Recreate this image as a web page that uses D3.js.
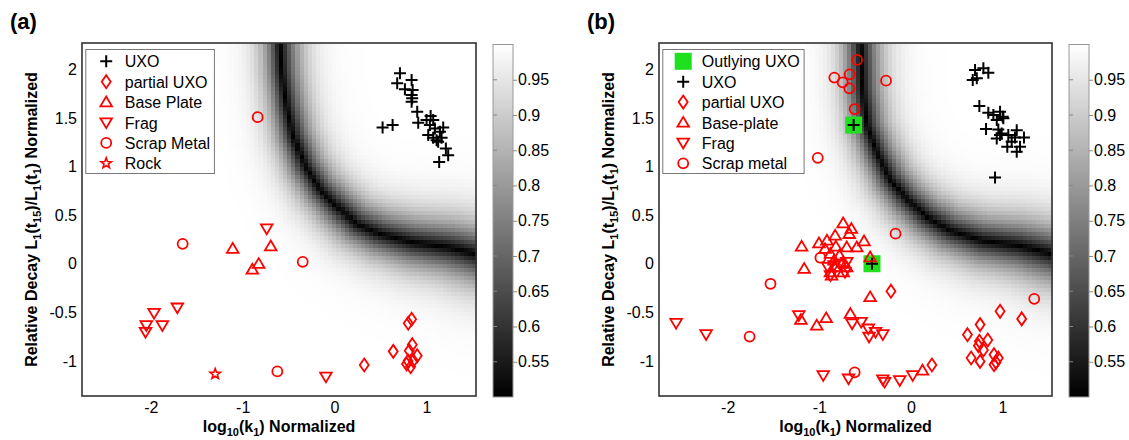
<!DOCTYPE html>
<html lang="en">
<head>
<meta charset="UTF-8">
<title>Relative decay vs log10(k1)</title>
<script src="https://d3js.org/d3.v7.min.js"></script>
<style>
    body { margin: 0; background: #fff; }
    text { font-family: "Liberation Sans", Arial, sans-serif; }
</style>
</head>
<body>
<script type="text/javascript">
    var svgWidth = 1129;
    var svgHeight = 440;

    var xDomain = [-2.75, 1.54];
    var yDomain = [-1.36, 2.27];
    var cbDomain = [0.5, 1];
    var xTicks = [-2, -1, 0, 1];
    var yTicks = [-1, -0.5, 0, 0.5, 1, 1.5, 2];
    var cbTicks = [0.55, 0.6, 0.65, 0.7, 0.75, 0.8, 0.85, 0.9, 0.95];

    // ---- panel (a) ----
    var aUXO = [[0.712,1.959],[0.682,1.856],[0.839,1.890],[0.766,1.794],[0.850,1.787],[0.839,1.735],[0.845,1.701],
        [0.839,1.666],[0.523,1.402],[0.632,1.426],[0.900,1.563],[0.911,1.450],[1.046,1.519],[1.002,1.477],[1.074,1.477],
        [1.038,1.426],[1.092,1.392],[1.183,1.402],[1.147,1.357],[1.020,1.323],[1.074,1.295],[1.165,1.295],[1.128,1.254],
        [1.212,1.186],[1.237,1.116],[1.139,1.047],[1.111,1.271]];
    var aPartial = [[0.323,-1.041],[0.639,-0.901],[0.802,-0.612],[0.839,-0.571],[0.846,-0.832],[0.813,-0.894],
        [0.900,-0.945],[0.784,-1.031],[0.828,-1.059],[0.857,-0.997],[0.800,-1.000]];
    var aBase = [[-1.109,0.155],[-0.695,0.181],[-0.826,0.0],[-0.895,-0.059]];
    var aFrag = [[-0.739,0.361],[-1.712,-0.452],[-1.965,-0.507],[-1.875,-0.634],[-2.05,-0.634],[-2.058,-0.702],[-0.094,-1.162]];
    var aScrap = [[-0.837,1.507],[-1.654,0.205],[-0.347,0.02],[-0.623,-1.107]];
    var aRock = [[-1.30,-1.134]];
    var aLegend = ["UXO", "partial UXO", "Base Plate", "Frag", "Scrap Metal", "Rock"];
    // dark ridge of the background (value 0.5)
    var aBoundary = [[-0.62,3.2],[-0.594,2.268],[-0.576,1.959],[-0.521,1.614],[-0.449,1.305],[-0.322,0.996],[-0.159,0.756],
        [0.023,0.584],[0.240,0.412],[0.494,0.309],[0.856,0.223],[1.256,0.171],[1.539,0.103],[2.6,0.0]];

    // ---- panel (b) ----
    var bOutlying = [[-0.625,1.426],[-0.425,0.0]];
    var bUXO = [[0.700,1.993],[0.791,2.010],[0.845,1.965],[0.675,1.890],[0.719,1.907],[0.747,1.622],[0.845,1.553],
        [0.900,1.529],[0.973,1.563],[1.002,1.511],[0.937,1.478],[0.820,1.385],[0.954,1.381],[0.991,1.340],[1.063,1.323],
        [1.155,1.374],[1.136,1.299],[0.937,1.289],[1.234,1.299],[1.100,1.254],[1.052,1.202],[1.191,1.202],[1.155,1.151],
        [0.918,0.887],[1.009,1.495],[0.973,1.323],[-0.625,1.426],[-0.425,0.0]];
    var bPartial = [[0.973,-0.489],[1.209,-0.567],[0.755,-0.626],[0.617,-0.729],[0.747,-0.798],[0.839,-0.784],
        [0.791,-0.887],[0.736,-0.842],[0.657,-0.969],[0.755,-1.004],[0.907,-0.935],[0.954,-0.969],[0.929,-1.014],
        [0.907,-1.038],[0.229,-1.041],[-0.218,-0.282]];
    var bBase = [[-1.193,0.178],[-1.004,0.212],[-1.165,-0.051],[-0.740,0.418],[-0.650,0.360],[-0.827,0.291],[-0.917,0.240],
        [-0.673,0.308],[-0.512,0.233],[-0.591,0.171],[-0.701,0.171],[-0.819,0.178],[-0.937,0.154],[-0.878,0.103],
        [-0.780,0.086],[-0.839,0.034],[-0.740,0.017],[-0.819,-0.034],[-0.701,-0.034],[-0.878,-0.086],[-0.740,-0.086],
        [-0.866,-0.120],[-0.445,0.068],[-0.445,-0.342],[-0.661,-0.514],[-0.925,-0.558],[-1.028,-0.634],[-1.201,-0.575],
        [0.126,-1.096]];
    var bFrag = [[-2.563,-0.610],[-2.236,-0.726],[-1.224,-0.531],[-0.642,-0.616],[-0.543,-0.599],[-0.465,-0.668],
        [-0.457,-0.753],[-0.386,-0.702],[-0.307,-0.726],[-0.957,-1.147],[-0.681,-1.182],[-0.307,-1.192],[-0.287,-1.216],
        [-0.122,-1.199],[0.020,-1.147],[-0.906,-0.034],[-0.839,-0.017],[-0.780,0.0],[-0.700,0.017],[-0.878,-0.120],
        [-0.720,-0.086]];
    var bScrap = [[-0.588,2.096],[-0.836,1.914],[-0.669,1.948],[-0.745,1.866],[-0.672,1.804],[-0.272,1.883],[-0.614,1.591],
        [-1.017,1.089],[-0.168,0.309],[-0.988,0.062],[-1.533,-0.206],[-1.761,-0.749],[-0.614,-1.117],[1.346,-0.361]];
    var bLegend = ["Outlying UXO", "UXO", "partial UXO", "Base-plate", "Frag", "Scrap metal"];
    var bBoundary = [[-0.56,3.2],[-0.552,2.268],[-0.534,1.787],[-0.479,1.408],[-0.370,1.134],[-0.225,0.859],[-0.044,0.653],
        [0.174,0.480],[0.428,0.344],[0.791,0.240],[1.191,0.188],[1.536,0.106],[2.6,0.0]];

    var red = "#ff0000";
    var markerPath = {
        plus: "M-6,0H6M0,-6V6",
        diamond: "M0,-6.5L4.5,0L0,6.5L-4.5,0Z",
        up: "M0,-5.6L5.8,4.2L-5.8,4.2Z",
        down: "M0,5.6L5.8,-4.2L-5.8,-4.2Z",
        circle: "M5,0A5,5 0 1,1 -5,0A5,5 0 1,1 5,0",
        square: "M-8.5,-8.5H8.5V8.5H-8.5Z",
        star: (function () {
            var p = d3.path();
            for (var i = 0; i < 10; i++) {
                var r = i % 2 ? 2.3 : 5.5, a = -Math.PI / 2 + i * Math.PI / 5;
                if (i === 0) p.moveTo(r * Math.cos(a), r * Math.sin(a));
                else p.lineTo(r * Math.cos(a), r * Math.sin(a));
            }
            p.closePath();
            return p.toString();
        })()
    };
    var markerStyle = {
        plus: {stroke: "#000", fill: "none", width: 2},
        diamond: {stroke: red, fill: "none", width: 1.8},
        up: {stroke: red, fill: "none", width: 1.8},
        down: {stroke: red, fill: "none", width: 1.8},
        circle: {stroke: red, fill: "none", width: 1.8},
        square: {stroke: "none", fill: "#1fe01f", width: 0},
        star: {stroke: red, fill: "none", width: 1.6}
    };

    var grayScale = d3.scaleLinear().domain(cbDomain).range(["#000000", "#ffffff"]).clamp(true);

    var svg = d3.select("body").append("svg")
        .attr("width", svgWidth)
        .attr("height", svgHeight)
        .style("background", "#fff");

    function richText(sel, parts) {
        var prevSub = false;
        parts.forEach(function (p) {
            var t = sel.append("tspan").text(p[0]);
            if (p[1]) t.attr("font-size", 11);
            if (p[1] && !prevSub) t.attr("dy", 4);
            if (!p[1] && prevSub) t.attr("dy", -4);
            prevSub = p[1];
        });
    }

    function styleMarker(sel, type) {
        var s = markerStyle[type];
        sel.attr("d", markerPath[type])
            .attr("fill", s.fill)
            .attr("stroke", s.stroke)
            .attr("stroke-width", s.width);
    }

    // background value: 0.5 on the ridge, rising towards 1 away from it
    function makeField(boundary, x, y) {
        var pts = boundary.map(function (d) { return [x(d[0]), y(d[1])]; });
        var x0 = pts[1][0], x1 = x.range()[1];
        return function (px, py) {
            var best = Infinity, inner = true, qBest = 0;
            for (var i = 0; i < pts.length - 1; i++) {
                var ax = pts[i][0], ay = pts[i][1], dx = pts[i + 1][0] - ax, dy = pts[i + 1][1] - ay;
                var len2 = dx * dx + dy * dy;
                var u = Math.max(0, Math.min(1, ((px - ax) * dx + (py - ay) * dy) / len2));
                var qx = ax + u * dx, qy = ay + u * dy;
                var dd = Math.hypot(px - qx, py - qy);
                if (dd < best) {
                    best = dd;
                    inner = (dx * (py - ay) - dy * (px - ax)) < 0;
                    qBest = qx;
                }
            }
            var t = Math.max(0, Math.min(1, (qBest - x0) / (x1 - x0)));
            var w = inner ? 24 + 10 * t : 21 + 14 * t;
            return 0.5 + 0.5 * Math.tanh(best / w);
        };
    }

    function drawPanel(cfg) {
        var x = d3.scaleLinear().domain(xDomain).range([cfg.left, cfg.right]);
        var y = d3.scaleLinear().domain(yDomain).range([cfg.bottom, cfg.top]);
        var g = svg.append("g");

        // heat map
        var nx = 96, ny = 88;
        var cw = (cfg.right - cfg.left) / nx, ch = (cfg.bottom - cfg.top) / ny;
        var field = makeField(cfg.boundary, x, y);
        var cells = [];
        d3.range(nx).forEach(function (i) {
            d3.range(ny).forEach(function (j) {
                var vx = x.invert(cfg.left + (i + 0.5) * cw), vy = y.invert(cfg.top + (j + 0.5) * ch);
                cells.push({x: vx, y: vy, v: field(x(vx), y(vy))});
            });
        });
        g.append("g").selectAll("rect")
            .data(cells)
            .join("rect")
            .attr("x", function (d) { return x(d.x) - cw / 2; })
            .attr("y", function (d) { return y(d.y) - ch / 2; })
            .attr("width", cw + 0.6)
            .attr("height", ch + 0.6)
            .attr("fill", function (d) { return grayScale(d.v); })
            .attr("shape-rendering", "crispEdges");

        // markers
        cfg.series.forEach(function (s) {
            g.append("g").selectAll("path")
                .data(s.data)
                .join("path")
                .attr("transform", function (d) { return "translate(" + x(d[0]) + "," + y(d[1]) + ")"; })
                .call(styleMarker, s.marker);
        });

        // box
        g.append("rect")
            .attr("x", cfg.left).attr("y", cfg.top)
            .attr("width", cfg.right - cfg.left).attr("height", cfg.bottom - cfg.top)
            .attr("fill", "none").attr("stroke", "#333").attr("stroke-width", 1.6);

        // axes
        var xAxis = g.append("g")
            .attr("transform", "translate(0," + cfg.bottom + ")")
            .call(d3.axisBottom(x).tickValues(xTicks).tickSize(0).tickPadding(6).tickFormat(function (d) { return String(d); }));
        var yAxis = g.append("g")
            .attr("transform", "translate(" + cfg.left + ",0)")
            .call(d3.axisLeft(y).tickValues(yTicks).tickSize(0).tickPadding(5).tickFormat(function (d) { return String(d); }));
        [xAxis, yAxis].forEach(function (a) {
            a.select(".domain").remove();
            a.selectAll("text").attr("font-size", 16).attr("fill", "#000")
                .attr("font-family", "'Liberation Sans', Arial, sans-serif");
        });

        // axis labels
        richText(g.append("text")
            .attr("x", (cfg.left + cfg.right) / 2).attr("y", 432)
            .attr("text-anchor", "middle").attr("font-size", 16).attr("font-weight", "bold"),
            [["log", 0], ["10", 1], ["(k", 0], ["1", 1], [") Normalized", 0]]);
        richText(g.append("text")
            .attr("transform", "translate(" + cfg.ylabelX + "," + ((cfg.top + cfg.bottom) / 2) + ") rotate(-90)")
            .attr("text-anchor", "middle").attr("font-size", 16).attr("font-weight", "bold"),
            [["Relative Decay L", 0], ["1", 1], ["(t", 0], ["15", 1], [")/L", 0], ["1", 1], ["(t", 0], ["1", 1], [") Normalized", 0]]);

        // panel title
        g.append("text").attr("x", cfg.titleX).attr("y", 29)
            .attr("font-size", 22).attr("font-weight", "bold").text(cfg.title);

        // legend
        var leg = g.append("g").attr("transform", "translate(" + (cfg.left + 3.8) + "," + (cfg.top + 6.5) + ")");
        leg.append("rect").attr("width", cfg.legendWidth).attr("height", 124)
            .attr("fill", "#fff").attr("stroke", "#777").attr("stroke-width", 1);
        cfg.legend.forEach(function (name, i) {
            var cy = 11.8 + i * 20.4;
            leg.append("path").attr("transform", "translate(20.4," + cy + ")")
                .call(styleMarker, cfg.series[i].marker);
            leg.append("text").attr("x", 39).attr("y", cy + 6)
                .attr("font-size", 16).attr("fill", "#000").text(name);
        });

        // colorbar
        var cb = d3.scaleLinear().domain(cbDomain).range([cfg.bottom + 1, cfg.top + 1.5]);
        var gradId = "grad" + cfg.title.replace(/\W/g, "");
        var grad = svg.append("defs").append("linearGradient").attr("id", gradId)
            .attr("x1", 0).attr("y1", 1).attr("x2", 0).attr("y2", 0);
        cbDomain.forEach(function (v, i) {
            grad.append("stop").attr("offset", i).attr("stop-color", grayScale(v));
        });
        var cbg = g.append("g");
        cbg.append("rect")
            .attr("x", cfg.cbX).attr("y", cb(cbDomain[1]))
            .attr("width", 20).attr("height", cb(cbDomain[0]) - cb(cbDomain[1]))
            .attr("fill", "url(#" + gradId + ")")
            .attr("stroke", "#999").attr("stroke-width", 1);
        cbg.selectAll("line.inner")
            .data(cbTicks)
            .join("line")
            .attr("class", "inner")
            .attr("x1", cfg.cbX).attr("x2", cfg.cbX + 4)
            .attr("y1", function (d) { return cb(d); }).attr("y2", function (d) { return cb(d); })
            .attr("stroke", "#888");
        var cbAxis = cbg.append("g")
            .attr("transform", "translate(" + (cfg.cbX + 20) + ",0)")
            .call(d3.axisRight(cb).tickValues(cbTicks).tickSize(4).tickPadding(1).tickFormat(function (d) { return String(d); }));
        cbAxis.select(".domain").remove();
        cbAxis.selectAll("line").attr("stroke", "#888");
        cbAxis.selectAll("text").attr("font-size", 16).attr("fill", "#000")
            .attr("font-family", "'Liberation Sans', Arial, sans-serif");
    }

    drawPanel({
        title: "(a)", titleX: 10, left: 82, right: 476, top: 43, bottom: 396, ylabelX: 37, cbX: 493,
        legendWidth: 128.6, legend: aLegend, boundary: aBoundary,
        series: [
            {marker: "plus", data: aUXO},
            {marker: "diamond", data: aPartial},
            {marker: "up", data: aBase},
            {marker: "down", data: aFrag},
            {marker: "circle", data: aScrap},
            {marker: "star", data: aRock}
        ]
    });

    drawPanel({
        title: "(b)", titleX: 587, left: 659, right: 1052, top: 43, bottom: 396, ylabelX: 614, cbX: 1069,
        legendWidth: 141.3, legend: bLegend, boundary: bBoundary,
        series: [
            {marker: "square", data: bOutlying},
            {marker: "plus", data: bUXO},
            {marker: "diamond", data: bPartial},
            {marker: "up", data: bBase},
            {marker: "down", data: bFrag},
            {marker: "circle", data: bScrap}
        ]
    });
</script>
</body>
</html>
